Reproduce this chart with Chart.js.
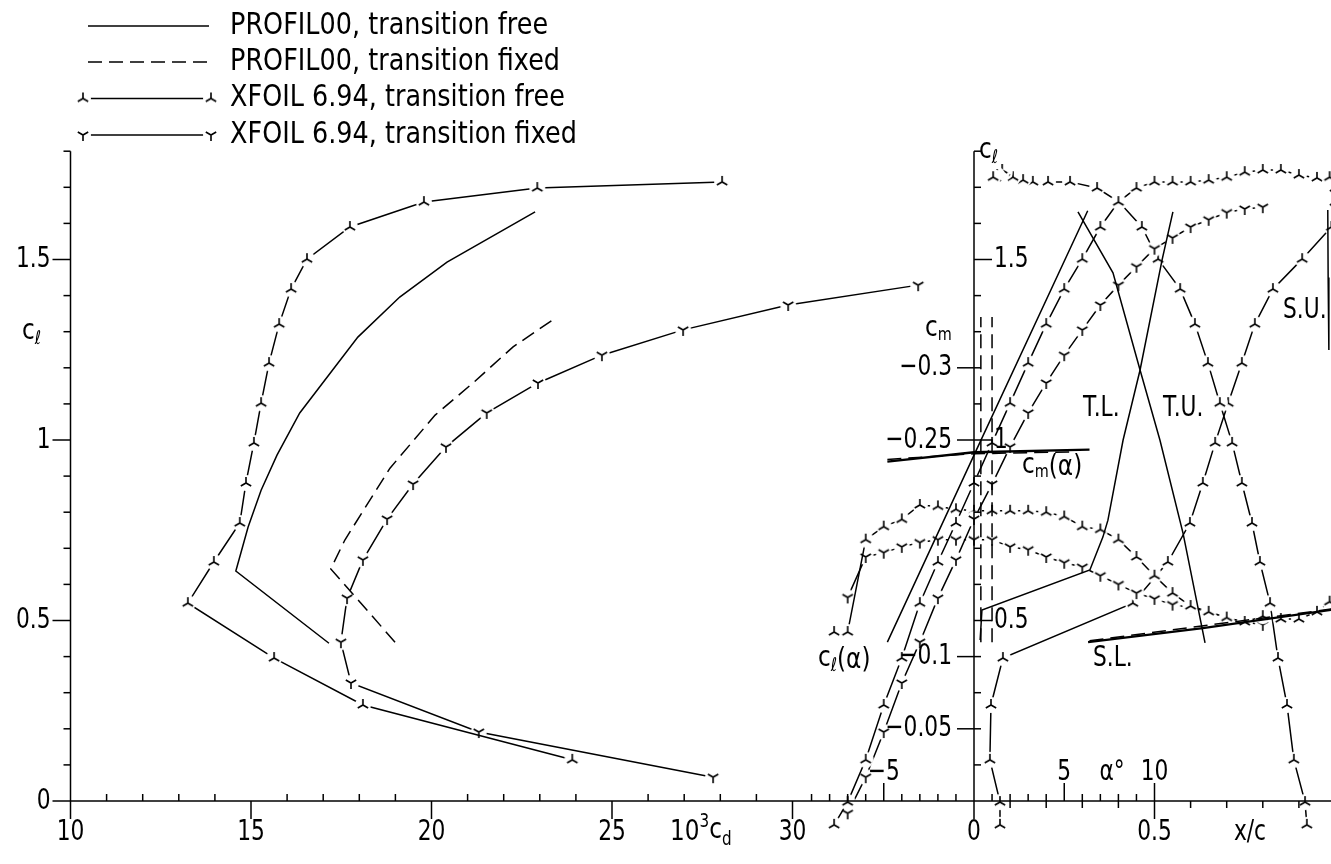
<!DOCTYPE html>
<html>
<head>
<meta charset="utf-8">
<script src="https://cdn.jsdelivr.net/npm/chart.js@4.4.0/dist/chart.umd.min.js"></script>
<style>
  html, body { margin: 0; padding: 0; background: #fff; }
  canvas { display: block; }
</style>
</head>
<body>
<canvas id="polar" width="1331" height="864"></canvas>
<script>
// ---- left panel: c_l over 10^3 c_d, PROFIL00
const cdProfilFree = [17.16, 14.58, 14.92, 15.28, 15.72, 16.35, 17.96, 19.12, 20.43, 22.87];
const clProfilFree = [0.437, 0.637, 0.759, 0.861, 0.958, 1.075, 1.285, 1.396, 1.493, 1.632];
const cdProfilFixed = [18.99, 17.21, 17.60, 18.85, 20.10, 21.15, 22.26, 23.48];
const clProfilFixed = [0.440, 0.643, 0.723, 0.922, 1.069, 1.158, 1.258, 1.341];

// ---- XFOIL 6.94, transition free (one entry per alpha)
const alphaFree = [-7.75, -7, -6, -5, -4, -3, -2, -1, 0, 1, 2, 3, 4, 5, 6, 7, 8, 9, 10, 11, 12, 13, 14, 15, 16, 17, 18, 19, 19.7];
const clFree = [-0.066, -0.003, 0.114, 0.266, 0.396, 0.548, 0.662, 0.770, 0.881, 0.992, 1.102, 1.213, 1.321, 1.418, 1.501,
  1.590, 1.659, 1.698, 1.715, 1.715, 1.715, 1.720, 1.728, 1.742, 1.748, 1.748, 1.734, 1.726, 1.728];
const cdFree = [null, null, 23.9, 18.1, 15.64, 13.25, 13.97, 14.69, 14.86, 15.08, 15.28, 15.50, 15.78, 16.11, 16.55,
  17.74, 19.79, 22.93, 28.05, null, null, null, null, null, null, null, null, null, null];
const cmFree = [-0.117, -0.117, -0.181, -0.190, -0.195, -0.205, -0.204, -0.202, -0.201, -0.201, -0.201, -0.201, -0.200, -0.197, -0.190,
  -0.188, -0.181, -0.169, -0.156, -0.144, -0.135, -0.131, -0.127, -0.124, -0.128, -0.126, -0.126, -0.131, -0.138];
const xcUpperFree = [0.922, 0.917, 0.886, 0.867, 0.842, 0.820, 0.792, 0.770, 0.742, 0.715, 0.681, 0.648, 0.612, 0.571, 0.510,
  0.465, 0.402, 0.341, 0.266, 0.205, 0.163, 0.136, 0.108, 0.085, 0.080, 0.078, 0.064, 0.060, 0.053];
const xcLowerFree = [0.072, 0.072, 0.044, 0.047, 0.080, 0.440, 0.537, 0.598, 0.634, 0.668, 0.704, 0.742, 0.778, 0.828, 0.909,
  0.990, 1.0, 1.0, 1.0, 1.0, 1.0, 1.0, 1.0, 1.0, 1.0, 1.0, 1.0, 1.0, 1.0];

// ---- XFOIL 6.94, transition fixed
const alphaFixed = [-7, -6, -5, -4, -3, -2, -1, 0, 1, 2, 3, 4, 5, 6, 7, 8, 9, 10, 11, 12, 13, 14, 15, 16];
const clFixed = [-0.034, 0.066, 0.191, 0.327, 0.440, 0.562, 0.668, 0.781, 0.878, 0.981, 1.075, 1.158, 1.235, 1.305, 1.374,
  1.429, 1.48, 1.53, 1.56, 1.59, 1.61, 1.63, 1.64, 1.645];
const cdFixed = [null, 27.8, 21.31, 17.77, 17.49, 17.66, 18.10, 18.77, 19.49, 20.40, 21.53, 22.95, 24.72, 26.97, 29.88,
  33.48, null, null, null, null, null, null, null, null];
const cmFixed = [-0.141, -0.169, -0.172, -0.176, -0.179, -0.181, -0.181, -0.181, -0.181, -0.176, -0.174, -0.169, -0.165, -0.162, -0.156,
  -0.150, -0.144, -0.140, -0.136, -0.134, -0.131, -0.127, -0.124, -0.122];

// ---- right panel, PROFIL00
const alphaProfilCl = [-4.8, 0, 6.3];
const clProfilAlpha = [0.44, 0.958, 1.635];
const alphaProfilCm = [-4.8, 0, 6.4];
const cmProfilAlpha = [-0.235, -0.2415, -0.2433];
const alphaProfilCmFixed = [-4.8, 0, 5.6];
const cmProfilAlphaFixed = [-0.2365, -0.2405, -0.2418];
const xcUpperProfil = [0.288, 0.385, 0.460, 0.515, 0.579, 0.640];
const clUpperProfil = [1.632, 1.463, 1.194, 1.0, 0.742, 0.438];
const xcLowerProfil = [0.551, 0.521, 0.460, 0.413, 0.371, 0.357, 0.321, 0.022, 0.017];
const clLowerProfil = [1.632, 1.499, 1.194, 1.0, 0.778, 0.731, 0.64, 0.529, 0.446];
const xcSepUpper = [0.980, 0.981, 0.983];
const clSepUpper = [1.637, 1.45, 1.249];
const xcSepLower = [0.316, 0.634, 1.0];
const clSepLower = [0.44, 0.479, 0.531];
const xcSepLowerFixed = [0.32, 1.0];
const clSepLowerFixed = [0.444, 0.533];
const xcTripUpper = [0.019, 0.019];
const xcTripLower = [0.05, 0.05];
const clTrip = [0.44, 1.341];

// ---- axis ticks and labels
const cdLabels = [10, 15, 20, 25, 30];
const clLabels = [0, 0.5, 1, 1.5];
const clRightLabels = [0.5, 1, 1.5];
const cmLabels = [-0.3, -0.25, -0.1, -0.05];
const alphaLabels = [-5, 5, 10];
const xcLabels = [0, 0.5];

const FONT = '"DejaVu Sans", sans-serif';
const DASH = [14, 7];


function pairs(xs, ys) {
    const out = [];
    for (let i = 0; i < xs.length; i++) {
        if (xs[i] !== null && ys[i] !== null) out.push({ x: xs[i], y: ys[i] });
    }
    return out;
}


function makeMarker(kind) {
    const c = document.createElement('canvas');
    c.width = 22;
    c.height = 22;
    const g = c.getContext('2d');
    g.fillStyle = '#fff';
    g.beginPath();
    g.arc(11, 11, 8, 0, Math.PI * 2);
    g.fill();
    g.strokeStyle = '#000';
    g.lineWidth = 1.6;
    const angles = kind === 'up' ? [-90, 30, 150] : [90, -30, -150];
    g.beginPath();
    angles.forEach(a => {
        const r = a * Math.PI / 180;
        g.moveTo(11, 11);
        g.lineTo(11 + 6 * Math.cos(r), 11 + 6 * Math.sin(r));
    });
    g.stroke();
    return c;
}

const markUp = makeMarker('up');
const markY = makeMarker('y');


function plain(data, x, y, opts) {
    return Object.assign({
        data: data, xAxisID: x, yAxisID: y, showLine: true,
        borderColor: '#000', borderWidth: 1.5, pointRadius: 0, fill: false
    }, opts || {});
}


function marked(data, x, y, marker) {
    return plain(data, x, y, { pointStyle: marker, pointRadius: 4 });
}


function text(ctx, str, x, y, size, align, sx) {
    ctx.save();
    ctx.font = size + 'px ' + FONT;
    const w = ctx.measureText(str).width * sx;
    let x0 = x;
    if (align === 'center') x0 = x - w / 2;
    if (align === 'right') x0 = x - w;
    ctx.translate(x0, y);
    ctx.scale(sx, 1);
    ctx.textAlign = 'left';
    ctx.textBaseline = 'middle';
    ctx.fillStyle = '#000';
    ctx.fillText(str, 0, 0);
    ctx.restore();
    return w;
}


// pieces: [string, size, dy]
function compound(ctx, pieces, x, y) {
    let cx = x;
    pieces.forEach(p => {
        cx += text(ctx, p[0], cx, y + p[2], p[1], 'left', 0.8);
    });
}


function line(ctx, x1, y1, x2, y2) {
    ctx.beginPath();
    ctx.moveTo(x1, y1);
    ctx.lineTo(x2, y2);
    ctx.stroke();
}


const axesPlugin = {
    id: 'plotterAxes',
    afterDatasetsDraw(chart) {
        const ctx = chart.ctx;
        const s = chart.scales;
        const px = (scale, v) => s[scale].getPixelForValue(v);
        const x0 = px('cd', 10);
        const xr = px('xc', 0);
        const y0 = px('cl', 0);
        const yTop = px('cl', 1.8);

        ctx.save();
        ctx.strokeStyle = '#000';
        ctx.lineWidth = 1.5;

        // frame lines
        line(ctx, x0, yTop, x0, y0);
        line(ctx, x0 - 18, y0, chart.chartArea.right, y0);
        line(ctx, xr, yTop, xr, y0 + 18);

        // c_l ticks, both vertical axes
        for (let i = 1; i <= 18; i++) {
            const v = i / 10;
            const y = px('cl', v);
            const major = i % 5 === 0;
            line(ctx, x0 - (major ? 18 : 7), y, x0, y);
            line(ctx, xr, y, xr + (major ? 18 : 7), y);
        }
        // c_m ticks
        cmLabels.forEach(v => {
            const y = px('cm', v);
            line(ctx, xr - 17, y, xr, y);
        });
        // 10^3 c_d ticks
        for (let v = 10; v <= 30; v++) {
            const x = px('cd', v);
            if (v % 5 === 0) line(ctx, x, y0, x, y0 + 18);
            else line(ctx, x, y0, x, y0 - 7);
        }
        // alpha ticks
        for (let a = -9; a <= 10; a++) {
            if (a === 0) continue;
            const x = px('alpha', a);
            line(ctx, x, y0, x, y0 - (a % 5 === 0 ? 18 : 7));
        }
        // x/c ticks
        for (let i = 1; i <= 9; i++) {
            const x = px('xc', i / 10);
            line(ctx, x, y0, x, y0 + (i === 5 ? 18 : 7));
        }

        // tick labels
        const size = 29;
        const sx = 0.75;
        clLabels.forEach(v => text(ctx, String(v), x0 - 20, px('cl', v), size, 'right', sx));
        cdLabels.forEach(v => text(ctx, String(v), px('cd', v), 832, size, 'center', sx));
        clRightLabels.forEach(v => text(ctx, String(v), xr + 20, px('cl', v), size, 'left', sx));
        cmLabels.forEach(v => text(ctx, String(v).replace('-', '\u2212'), xr - 22, px('cm', v), size, 'right', sx));
        alphaLabels.forEach(v => text(ctx, String(v).replace('-', '\u2212'), px('alpha', v), 772, size, 'center', sx));
        xcLabels.forEach(v => text(ctx, String(v), px('xc', v), 832, size, 'center', sx));

        // axis titles
        compound(ctx, [['c', 29, -2], ['\u2113', 19, 6]], 22, 333);
        compound(ctx, [['10', 29, 0], ['3', 19, -10], ['c', 29, -2], ['d', 19, 8]], 670, 832);
        compound(ctx, [['c', 29, -2], ['m', 18, 5]], 925, 330);
        compound(ctx, [['c', 29, -2], ['\u2113', 19, 6]], 979, 152);
        text(ctx, '\u03b1\u00b0', 1112, 772, size, 'center', sx);
        text(ctx, 'x/c', 1250, 832, size, 'center', sx);

        // curve names
        compound(ctx, [['c', 29, -2], ['\u2113', 19, 6], ['(\u03b1)', 29, 0]], 818, 660);
        compound(ctx, [['c', 29, -2], ['m', 18, 5], ['(\u03b1)', 29, 0]], 1022, 467);
        text(ctx, 'T.L.', 1083, 408, size, 'left', sx);
        text(ctx, 'T.U.', 1163, 408, size, 'left', sx);
        text(ctx, 'S.U.', 1283, 310, size, 'left', sx);
        text(ctx, 'S.L.', 1093, 658, size, 'left', sx);

        // legend
        const rows = [26, 62, 98.5, 135];
        const names = ['PROFIL00, transition free', 'PROFIL00, transition fixed',
            'XFOIL 6.94, transition free', 'XFOIL 6.94, transition fixed'];
        rows.forEach((y, i) => {
            ctx.setLineDash(i === 1 ? DASH : []);
            line(ctx, i < 2 ? 88 : 83, y, i < 2 ? 209 : 211, y);
            ctx.setLineDash([]);
            if (i >= 2) {
                const m = i === 2 ? markUp : markY;
                ctx.drawImage(m, 83 - 11, y - 11);
                ctx.drawImage(m, 211 - 11, y - 11);
            }
            text(ctx, names[i], 230, y, 30, 'left', 0.85);
        });
        ctx.restore();
    }
};


// scale limits so that the plotter units line up with the canvas
const AREA = { left: 70, right: 1331, top: 140, bottom: 840 };

function spanX(v0, p0, ppu) {
    return { min: v0 - (p0 - AREA.left) / ppu, max: v0 + (AREA.right - p0) / ppu };
}

const cdSpan = spanX(10, 70.5, 36.1);
const alphaSpan = spanX(0, 974, 18.05);
const xcSpan = spanX(0, 974, 361);

const datasets = [
    plain(pairs(cdProfilFree, clProfilFree), 'cd', 'cl'),
    plain(pairs(cdProfilFixed, clProfilFixed), 'cd', 'cl', { borderDash: DASH }),
    plain(pairs(alphaProfilCl, clProfilAlpha), 'alpha', 'cl'),
    plain(pairs(alphaProfilCm, cmProfilAlpha), 'alpha', 'cm', { borderWidth: 2.4 }),
    plain(pairs(alphaProfilCmFixed, cmProfilAlphaFixed), 'alpha', 'cm', { borderDash: DASH }),
    plain(pairs(xcUpperProfil, clUpperProfil), 'xc', 'cl'),
    plain(pairs(xcLowerProfil, clLowerProfil), 'xc', 'cl'),
    plain(pairs(xcSepUpper, clSepUpper), 'xc', 'cl'),
    plain(pairs(xcSepLower, clSepLower), 'xc', 'cl', { borderWidth: 2.4 }),
    plain(pairs(xcSepLowerFixed, clSepLowerFixed), 'xc', 'cl', { borderDash: DASH }),
    plain(pairs(xcTripUpper, clTrip), 'xc', 'cl', { borderDash: DASH }),
    plain(pairs(xcTripLower, clTrip), 'xc', 'cl', { borderDash: DASH }),
    marked(pairs(cdFree, clFree), 'cd', 'cl', markUp),
    marked(pairs(cdFixed, clFixed), 'cd', 'cl', markY),
    marked(pairs(alphaFree, clFree), 'alpha', 'cl', markUp),
    marked(pairs(alphaFixed, clFixed), 'alpha', 'cl', markY),
    marked(pairs(alphaFree, cmFree), 'alpha', 'cm', markUp),
    marked(pairs(alphaFixed, cmFixed), 'alpha', 'cm', markY),
    marked(pairs(xcUpperFree, clFree), 'xc', 'cl', markUp),
    marked(pairs(xcLowerFree, clFree), 'xc', 'cl', markUp)
];

new Chart(document.getElementById('polar'), {
    type: 'scatter',
    data: { datasets: datasets },
    options: {
        responsive: false,
        animation: false,
        devicePixelRatio: 1,
        events: [],
        layout: {
            autoPadding: false,
            padding: { left: AREA.left, right: 1331 - AREA.right, top: AREA.top, bottom: 864 - AREA.bottom }
        },
        plugins: { legend: { display: false }, tooltip: { enabled: false } },
        scales: {
            cd: { type: 'linear', axis: 'x', display: false, min: cdSpan.min, max: cdSpan.max },
            alpha: { type: 'linear', axis: 'x', display: false, min: alphaSpan.min, max: alphaSpan.max },
            xc: { type: 'linear', axis: 'x', display: false, min: xcSpan.min, max: xcSpan.max },
            cl: { type: 'linear', axis: 'y', display: false, min: -(AREA.bottom - 801) / 361, max: (801 - AREA.top) / 361 },
            cm: { type: 'linear', axis: 'y', display: false, reverse: true, min: -(801 - AREA.top) / 1444, max: (AREA.bottom - 801) / 1444 }
        }
    },
    plugins: [axesPlugin]
});
</script>
</body>
</html>
